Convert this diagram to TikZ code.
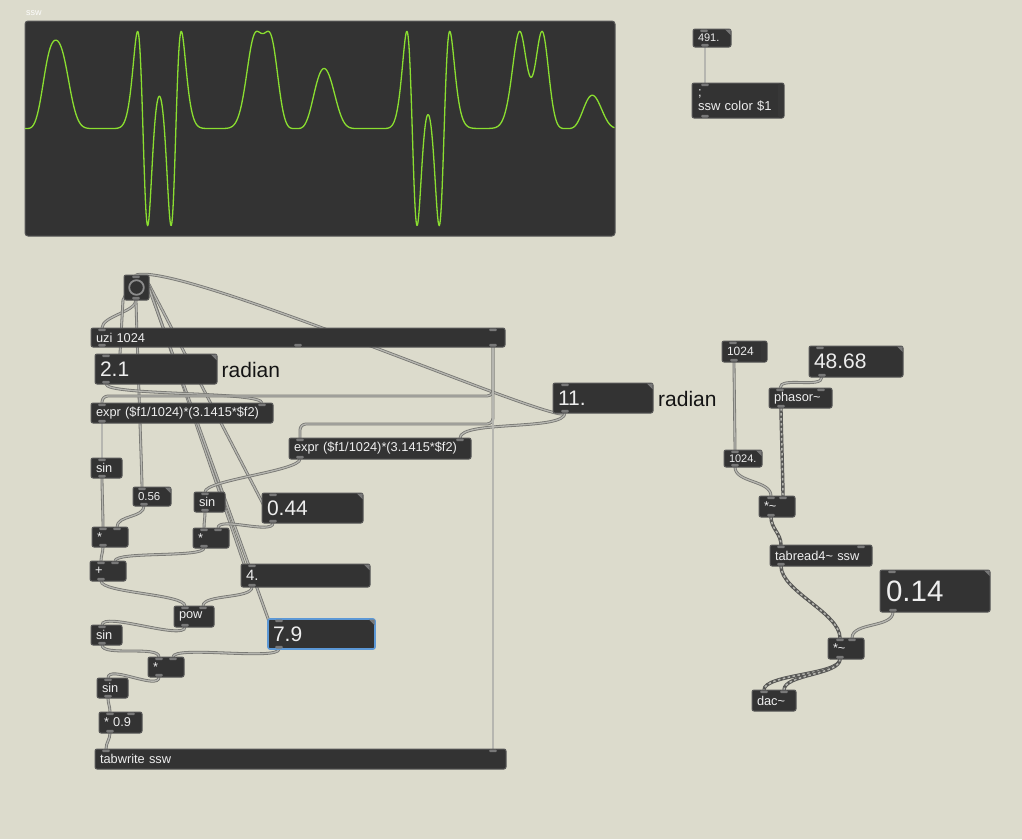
\documentclass[tikz,border=0pt]{standalone}
\usepackage{fontspec}
\setmainfont{Liberation Sans}
\usetikzlibrary{calc}
\pgfdeclarelayer{bglayer}
\pgfdeclarelayer{cordlayer}
\pgfsetlayers{bglayer,cordlayer,main}
\definecolor{bgc}{RGB}{220,219,204}
\definecolor{boxc}{RGB}{51,51,51}
\definecolor{brd}{RGB}{88,88,88}
\definecolor{nubc}{RGB}{120,120,120}
\definecolor{txtc}{RGB}{238,238,238}
\definecolor{cordo}{RGB}{118,118,114}
\definecolor{cordi}{RGB}{182,182,176}
\definecolor{wavec}{RGB}{138,222,48}
\definecolor{selc}{RGB}{92,152,214}
\definecolor{ringc}{RGB}{140,140,140}
\tikzset{
  obj/.style={draw=brd, line width=1, fill=boxc, rounded corners=2, inner xsep=5, inner ysep=0, outer sep=0,
    anchor=north west, text=txtc, align=left, font=\fontsize{12.8}{14}\selectfont},
  bignum/.style={font=\fontsize{21}{24}\selectfont, inner xsep=4},
  smallnum/.style={font=\fontsize{11}{12}\selectfont, inner xsep=4},
  cord/.style={draw=cordo, line width=0.8, double=cordi, double distance=1.3},
  sig/.style={draw=cordo!75!black, line width=3.4, postaction={draw=cordi, line width=1.5, dash pattern=on 2.5pt off 2.5pt}},
  sc/.style={out=-90, in=90, max distance=#1}, sc/.default=12,
  wave/.style={draw=wavec, line width=1.3, line join=round},
  lbl/.style={anchor=west, inner sep=0, text=black!92, font=\fontsize{21}{24}\selectfont},
  declare function={aa(\t)=0.56*sin(deg(\t*0.00644253))+0.44*sin(deg(\t*0.0337466));
    qq(\t)=aa(\t)*aa(\t);
    vv(\t)=0.9*sin(deg(7.9*sin(deg(qq(\t)*qq(\t)))));}
}
\newcommand{\mxo}[7][]{%
  \pgfmathsetmacro\mxw{#4-#2}\pgfmathsetmacro\mxh{#5-#3}\pgfmathsetmacro\mxt{#4-#2-10}%
  \node[obj, minimum width=\mxw pt, minimum height=\mxh pt, text width=\mxt pt, #1] (#6) at (#2,#3) {#7};}
\newcommand{\pin}[3]{\coordinate (#1-#2) at ($(#1.north west)+(#3,0)$);
  \fill[nubc, rounded corners=1.4] ($(#1-#2)+(-4,0.5)$) rectangle ($(#1-#2)+(4,3.2)$);}
\newcommand{\pinr}[3]{\coordinate (#1-#2) at ($(#1.north east)+(-#3,0)$);
  \fill[nubc, rounded corners=1.4] ($(#1-#2)+(-4,0.5)$) rectangle ($(#1-#2)+(4,3.2)$);}
\newcommand{\pout}[3]{\coordinate (#1-#2) at ($(#1.south west)+(#3,0)$);
  \fill[nubc, rounded corners=1.4] ($(#1-#2)+(-4,-0.5)$) rectangle ($(#1-#2)+(4,-3.2)$);}
\newcommand{\poutr}[3]{\coordinate (#1-#2) at ($(#1.south east)+(-#3,0)$);
  \fill[nubc, rounded corners=1.4] ($(#1-#2)+(-4,-0.5)$) rectangle ($(#1-#2)+(4,-3.2)$);}
\newcommand{\tri}[1]{\fill[nubc] ($(#1.north east)+(-6,0.5)$) -- ($(#1.north east)+(-0.5,0.5)$) -- ($(#1.north east)+(-0.5,6)$) -- cycle;}
\newcommand{\strip}[1]{\fill[brd!120, rounded corners=1.5] ($(#1.north east)+(-6,0.5)$) rectangle ($(#1.south east)+(-0.5,-0.5)$);}
\newcommand{\io}[2]{\pin{#1}{i}{#2}\pout{#1}{o}{#2}}
\newcommand{\iio}[2]{\pin{#1}{i1}{#2}\pinr{#1}{i2}{#2}\pout{#1}{o}{#2}}
\begin{document}
\begin{tikzpicture}[x=1pt,y=-1pt]
\begin{pgfonlayer}{bglayer}
\fill[bgc] (0,0) rectangle (1022,839);
\end{pgfonlayer}
\useasboundingbox (0,0) rectangle (1022,839);

% table display
\node[draw=brd, line width=1, fill=boxc, rounded corners=3, minimum width=590pt, minimum height=215pt, anchor=north west, inner sep=0, outer sep=0] (tbl) at (25,21) {};
\node[anchor=base west, inner sep=0, text=white!92!bgc, font=\fontsize{9}{10}\selectfont] (tbllbl) at (26,15.5) {ssw};
\draw[wave] plot[domain=0:1023, samples=1024] ({25+\x*0.576171875}, {128.5-108*vv(\x)});

% top right
\mxo[smallnum]{693}{29}{731}{47}{n491}{491.}
\tri{n491}\pin{n491}{i}{11}\pout{n491}{o}{12}
\mxo[font=\fontsize{13}{14}\selectfont, inner xsep=6]{692}{83}{782}{118}{msgc}{;\\ssw color \$1}
\strip{msgc}\pin{msgc}{i}{13}\pout{msgc}{o}{13}

% left patch
\mxo{124}{275}{149}{300}{bang}{}
\draw[ringc, line width=1.8] (bang.center) circle (7.3);
\pin{bang}{i}{12}\pout{bang}{o}{12}
\mxo{91}{328}{505}{347}{uzi}{uzi 1024}
\pin{uzi}{i1}{11}\pinr{uzi}{i2}{12}\pout{uzi}{o1}{11}\pout{uzi}{o2}{207}\poutr{uzi}{o3}{12}
\mxo[bignum]{95}{354}{217}{384}{n21}{2.1}
\tri{n21}\io{n21}{11}
\node[lbl] (rad1) at (221.5,370) {radian};
\mxo{91}{403}{273}{423}{expr1}{expr (\$f1/1024)*(3.1415*\$f2)}
\iio{expr1}{11}
\mxo[bignum]{553}{383}{653}{413}{n11}{11.}
\tri{n11}\io{n11}{12}
\node[lbl] (rad2) at (658,399) {radian};
\mxo{289}{438}{471}{459}{expr2}{expr (\$f1/1024)*(3.1415*\$f2)}
\iio{expr2}{11}
\mxo{91}{458}{122}{478}{sin1}{sin}
\io{sin1}{11}
\mxo[smallnum, font=\fontsize{11.5}{12}\selectfont]{133}{487}{171}{506}{n056}{0.56}
\tri{n056}\pin{n056}{i}{9}\pout{n056}{o}{11}
\mxo{194}{492}{225}{512}{sin2}{sin}
\io{sin2}{11}
\mxo[bignum]{262}{493}{363}{523}{n044}{0.44}
\tri{n044}\io{n044}{11}
\mxo{92}{527}{128}{547}{m1}{*}
\iio{m1}{11}
\mxo{193}{528}{229}{548}{m2}{*}
\iio{m2}{11}
\mxo{90}{561}{126}{581}{add}{+}
\iio{add}{11}
\mxo[font=\fontsize{15}{17}\selectfont, inner xsep=4]{241}{564}{370}{587}{n4}{4.}
\tri{n4}\io{n4}{11}
\mxo{174}{606}{214}{627}{pow}{pow}
\iio{pow}{11}
\mxo{91}{625}{122}{645}{sin3}{sin}
\io{sin3}{11}
\mxo[bignum, draw=selc, line width=1.6]{268}{619}{375}{649}{n79}{7.9}
\tri{n79}\io{n79}{11}
\mxo{148}{657}{184}{677}{m3}{*}
\iio{m3}{11}
\mxo{97}{678}{128}{698}{sin4}{sin}
\io{sin4}{11}
\mxo{99}{712}{142}{733}{m09}{* 0.9}
\iio{m09}{11}
\mxo{95}{749}{506}{769}{tabw}{tabwrite ssw}
\pin{tabw}{i1}{11}\pinr{tabw}{i2}{13}

% right patch
\mxo[smallnum, font=\fontsize{12}{13}\selectfont]{722}{341}{767}{362}{m1024}{1024}
\strip{m1024}\pin{m1024}{i}{11}\pout{m1024}{o}{12}
\mxo[bignum]{809}{346}{903}{377}{n4868}{48.68}
\tri{n4868}\pin{n4868}{i}{11}\pout{n4868}{o}{13}
\mxo{769}{388}{832}{408}{phasor}{phasor\textasciitilde}
\pin{phasor}{i1}{11}\pinr{phasor}{i2}{11}\pout{phasor}{o}{12}
\mxo[smallnum]{724}{450}{762}{467}{n1024f}{1024.}
\tri{n1024f}\io{n1024f}{11}
\mxo{759}{496}{795}{517}{sm1}{*\textasciitilde}
\iio{sm1}{12}
\mxo{770}{545}{872}{566}{tabr}{tabread4\textasciitilde\ ssw}
\iio{tabr}{11}
\mxo[font=\fontsize{29.5}{32}\selectfont, inner xsep=6]{880}{570}{988}{612}{n014}{0.14}
\tri{n014}\pin{n014}{i}{12}\pout{n014}{o}{13}
\mxo{828}{638}{864}{659}{sm2}{*\textasciitilde}
\iio{sm2}{12}
\mxo{752}{690}{796}{711}{dac}{dac\textasciitilde}
\pin{dac}{i1}{12}\pinr{dac}{i2}{12}

\begin{pgfonlayer}{cordlayer}
\draw[cord] (n491-o) to[sc] (msgc-i);
\draw[cord] (bang-o) to[sc] (uzi-i1);
\draw[cord] (bang-o) to[sc] (n056-i);
\draw[cord] (n21-o) -- ($(n21.north west)+(25,0)$) -- ($(bang.south west)+(-1,0)$) -- (bang-i);
\draw[cord] (n044-o) -- ($(bang.east)+(0,-3)$) -- (bang-i);
\draw[cord] (n4-o) -- ($(bang.east)+(0,-1)$) -- (bang-i);
\draw[cord] (n79-o) -- ($(bang.east)+(0,1)$) -- (bang-i);
\draw[cord] (n11-o) .. controls +(0,16) and +(45,-14) .. (bang-i);
\draw[cord] (n11-o) to[sc=18] (expr2-i2);
\draw[cord] (n21-o) to[sc] (expr1-i2);
\draw[cord, rounded corners=6] (uzi-o3) |- ($(expr1-i1)+(0,-7)$) -- (expr1-i1);
\draw[cord, rounded corners=6] (uzi-o3) |- ($(expr2-i1)+(0,-14)$) -- (expr2-i1);
\draw[cord] (uzi-o3) -- (tabw-i2);
\draw[cord] (expr1-o) to[sc] (sin1-i);
\draw[cord] (sin1-o) to[sc] (m1-i1);
\draw[cord] (n056-o) to[sc] (m1-i2);
\draw[cord] (m1-o) to[sc] (add-i1);
\draw[cord] (expr2-o) to[sc] (sin2-i);
\draw[cord] (sin2-o) to[sc] (m2-i1);
\draw[cord] (n044-o) to[sc] (m2-i2);
\draw[cord] (m2-o) to[sc=10] (add-i2);
\draw[cord] (add-o) to[sc] (pow-i1);
\draw[cord] (n4-o) to[sc] (pow-i2);
\draw[cord] (pow-o) to[sc=14] (sin3-i);
\draw[cord] (sin3-o) to[sc] (m3-i1);
\draw[cord] (n79-o) to[sc] (m3-i2);
\draw[cord] (m3-o) to[sc=14] (sin4-i);
\draw[cord] (sin4-o) to[sc] (m09-i1);
\draw[cord] (m09-o) to[sc] (tabw-i1);
% right
\draw[cord] (m1024-o) to[sc] (n1024f-i);
\draw[cord] (n1024f-o) to[sc=16] (sm1-i1);
\draw[cord] (n4868-o) to[sc] (phasor-i1);
\draw[sig] (phasor-o) to[sc] (sm1-i2);
\draw[sig] (sm1-o) to[sc=16] (tabr-i1);
\draw[sig] (tabr-o) to[sc=25] (sm2-i1);
\draw[cord] (n014-o) to[sc=16] (sm2-i2);
\draw[sig] (sm2-o) to[sc=16] (dac-i1);
\draw[sig] (sm2-o) to[sc=16] (dac-i2);
\end{pgfonlayer}
\end{tikzpicture}
\end{document}
